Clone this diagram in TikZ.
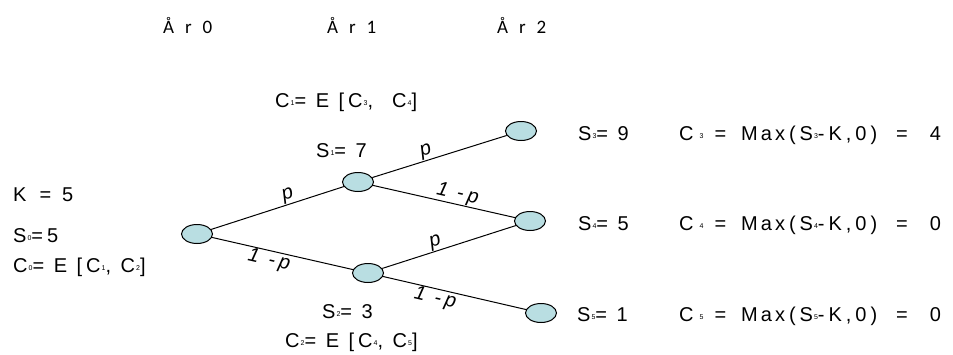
\documentclass[tikz,border=0pt]{standalone}
\usepackage{fontspec}
\setmainfont[LetterSpace=20]{Liberation Sans}
\newfontfamily\titlefont[LetterSpace=35]{Carlito}
\usetikzlibrary{shapes.geometric}
\definecolor{nodefill}{RGB}{185,222,226}
\newcommand{\sbx}[1]{\hspace{1pt}\raisebox{1.5pt}{\fontsize{7}{7}\selectfont #1}}
\newcommand{\maxline}[2]{C\hspace{5pt}\sbx{#1}\hspace{11pt}=\hspace{15pt}M\hspace{3pt}a\hspace{3pt}x(S\sbx{#1}-K,0)\hspace{19pt}=\hspace{22pt}#2}
\begin{document}
\begin{tikzpicture}[x=1pt,y=-1pt,
  state/.style={ellipse, draw=black, line width=1pt, fill=nodefill, minimum width=31pt, minimum height=19pt, inner sep=0pt},
  txt/.style={anchor=base west, inner sep=0pt, font=\fontsize{20}{20}\selectfont},
  ttl/.style={anchor=base west, inner sep=0pt, font=\titlefont\fontsize{19}{19}\selectfont},
  conn/.style={line width=1pt},
  plbl/.style={sloped, font=\fontsize{20}{20}\selectfont\itshape, inner sep=0.5pt}
]
\useasboundingbox (0,0) rectangle (953,354);
% titles
\node[ttl] (t0) at (163,33) {Å r 0};
\node[ttl] (t1) at (327,33) {Å r 1};
\node[ttl] (t2) at (497,33) {Å r 2};
% tree nodes
\node[state] (n0) at (197,234) {};
\node[state] (n1) at (358,182) {};
\node[state] (n2) at (368,273) {};
\node[state] (n3) at (521,131) {};
\node[state] (n4) at (530,221) {};
\node[state] (n5) at (541,313) {};
% connectors
\draw[conn] (n0) -- node[plbl, above, pos=0.6] (l01) {p} (n1);
\draw[conn] (n0) -- node[plbl, below, pos=0.42] (l02) {1 -p} (n2);
\draw[conn] (n1) -- node[plbl, above, pos=0.42] (l13) {p} (n3);
\draw[conn] (n1) -- node[plbl, above, pos=0.58] (l14) {1 -p} (n4);
\draw[conn] (n2) -- node[plbl, above, pos=0.42] (l24) {p} (n4);
\draw[conn] (n2) -- node[plbl, below, pos=0.38] (l25) {1 -p} (n5);
% texts
\node[txt] (k) at (13,201) {K\hspace{13pt}=\hspace{11pt}5};
\node[txt] (s0) at (13,242) {S\sbx{0}=5};
\node[txt] (c0) at (13,272) {C\sbx{0}= E [C\sbx{1}, C\sbx{2}]};
\node[txt] (c1) at (275,107) {C\sbx{1}= E [C\sbx{3}, \ C\sbx{4}]};
\node[txt] (s1) at (316,157) {S\sbx{1}= 7};
\node[txt] (s2) at (322,318) {S\sbx{2}= 3};
\node[txt] (c2) at (285,347) {C\sbx{2}= E [C\sbx{4}, C\sbx{5}]};
\node[txt] (s3) at (578,140) {S\sbx{3}= 9};
\node[txt] (s4) at (578,230) {S\sbx{4}= 5};
\node[txt] (s5) at (577,321) {S\sbx{5}= 1};
\node[txt] (c3) at (679,140) {\maxline{3}{4}};
\node[txt] (c4) at (679,230) {\maxline{4}{0}};
\node[txt] (c5) at (679,321) {\maxline{5}{0}};
\end{tikzpicture}
\end{document}
